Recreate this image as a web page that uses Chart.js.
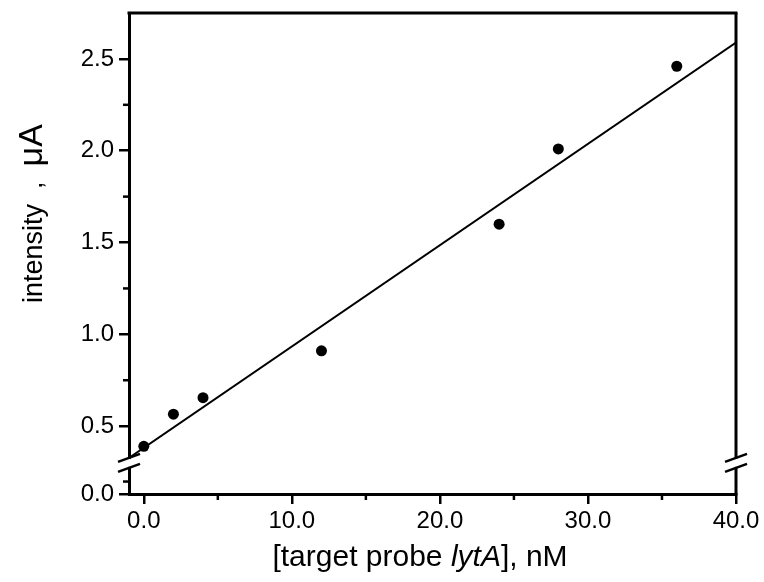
<!DOCTYPE html>
<html>
<head>
<meta charset="utf-8">
<script src="https://cdn.jsdelivr.net/npm/chart.js@4.4.0/dist/chart.umd.min.js"></script>
<style>
    html, body { margin: 0; padding: 0; background: #fff; }
    #wrap { width: 764px; height: 582px; }
</style>
</head>
<body>
<div id="wrap"><canvas id="chart"></canvas></div>
<script>
// measured points
const concentration = [0, 2, 4, 12, 24, 28, 36];
const intensity = [0.39, 0.565, 0.655, 0.91, 1.60, 2.01, 2.46];

// fitted line, end points
const fitX = [-1, 40];
const fitY = [0.327, 2.589];

const xTicks = [0, 10, 20, 30, 40];
const xMinorTicks = [5, 15, 25, 35];
const yTicks = [0.5, 1.0, 1.5, 2.0, 2.5];
const yMinorTicks = [0.75, 1.25, 1.75, 2.25];
const yLowTicks = [0];
const yLowMinorTicks = [0.1];

const FONT = '"Liberation Sans", Arial, sans-serif';

const tickFont = { family: FONT, size: 24 };

function fixedTicks(list) {
    return (scale) => {
        scale.ticks = list.map((v) => ({ value: v }));
    };
}

function fitScale(size) {
    return (s) => {
        if (s.isHorizontal()) s.height = size;
        else s.width = size;
        s.paddingTop = 0;
        s.paddingBottom = 0;
        s.paddingLeft = 0;
        s.paddingRight = 0;
    };
}

function line(ctx, x1, y1, x2, y2) {
    ctx.beginPath();
    ctx.moveTo(x1, y1);
    ctx.lineTo(x2, y2);
    ctx.stroke();
}

const decorations = {
    id: 'decorations',
    afterDraw(chart) {
        const { ctx, chartArea: a } = chart;
        const x = chart.scales.x;
        const y = chart.scales.y;
        const yLow = chart.scales.yLow;
        ctx.save();
        ctx.strokeStyle = '#000';
        ctx.lineCap = 'butt';

        // frame top + right
        ctx.lineWidth = 3;
        line(ctx, a.left - 1.5, a.top, a.right + 1.5, a.top);
        line(ctx, a.right, a.top, a.right, a.bottom + 1.5);

        // minor ticks
        ctx.lineWidth = 2.5;
        xMinorTicks.forEach((v) => {
            const px = x.getPixelForValue(v);
            line(ctx, px, a.bottom, px, a.bottom + 6);
        });
        yMinorTicks.forEach((v) => {
            const py = y.getPixelForValue(v);
            line(ctx, a.left - 6, py, a.left, py);
        });
        yLowMinorTicks.forEach((v) => {
            const py = yLow.getPixelForValue(v);
            line(ctx, a.left - 6, py, a.left, py);
        });

        // axis breaks
        const by = y.bottom;
        [a.left, a.right].forEach((bx) => {
            ctx.fillStyle = '#fff';
            ctx.fillRect(bx - 3, by - 4, 6, 8);
            ctx.lineWidth = 2.5;
            line(ctx, bx - 11, by - 1, bx + 11, by - 9);
            line(ctx, bx - 11, by + 9, bx + 11, by + 1);
        });

        // x title with italic gene name
        ctx.fillStyle = '#000';
        ctx.textBaseline = 'alphabetic';
        ctx.textAlign = 'left';
        const parts = [
            { t: '[target probe ', f: `30px ${FONT}` },
            { t: 'lytA', f: `italic 30px ${FONT}` },
            { t: '], nM', f: `30px ${FONT}` },
        ];
        let total = 0;
        parts.forEach((p) => {
            ctx.font = p.f;
            p.w = ctx.measureText(p.t).width;
            total += p.w;
        });
        let tx = 420 - total / 2;
        parts.forEach((p) => {
            ctx.font = p.f;
            ctx.fillText(p.t, tx, 566);
            tx += p.w;
        });

        // y title, rotated
        ctx.translate(42, 303);
        ctx.rotate(-Math.PI / 2);
        ctx.font = `27px ${FONT}`;
        const first = 'intensity  ,  ';
        ctx.fillText(first, 0, 0);
        const w1 = ctx.measureText(first).width;
        ctx.font = `34px ${FONT}`;
        ctx.fillText('\u03bcA', w1, 0);

        ctx.restore();
    },
};

const axisGrid = { drawOnChartArea: false, color: '#000', lineWidth: 2.5, tickLength: 10 };
const axisBorder = { color: '#000', width: 3 };

new Chart(document.getElementById('chart'), {
    type: 'scatter',
    data: {
        datasets: [
            {
                label: 'fit',
                type: 'line',
                data: fitX.map((v, i) => ({ x: v, y: fitY[i] })),
                borderColor: '#000',
                borderWidth: 2,
                pointRadius: 0,
                fill: false,
                yAxisID: 'y',
            },
            {
                label: 'intensity',
                data: concentration.map((v, i) => ({ x: v, y: intensity[i] })),
                backgroundColor: '#000',
                borderWidth: 0,
                pointRadius: 5.5,
                yAxisID: 'y',
            },
        ],
    },
    options: {
        responsive: true,
        maintainAspectRatio: false,
        animation: false,
        layout: { padding: { top: 13, right: 28, left: 0, bottom: 0 } },
        plugins: { legend: { display: false }, tooltip: { enabled: false } },
        scales: {
            x: {
                type: 'linear',
                min: -1,
                max: 40,
                afterBuildTicks: fixedTicks(xTicks),
                afterFit: fitScale(88),
                ticks: {
                    callback: (v) => Number(v).toFixed(1),
                    font: tickFont,
                    color: '#000',
                    padding: 3,
                    maxRotation: 0,
                    autoSkip: false,
                },
                grid: axisGrid,
                border: axisBorder,
            },
            yLow: {
                type: 'linear',
                position: 'left',
                stack: 'left',
                stackWeight: 31,
                min: 0,
                max: 0.25,
                afterBuildTicks: fixedTicks(yLowTicks),
                afterFit: fitScale(129),
                ticks: {
                    callback: (v) => Number(v).toFixed(1),
                    font: tickFont,
                    color: '#000',
                    padding: 5,
                    autoSkip: false,
                },
                grid: axisGrid,
                border: axisBorder,
            },
            y: {
                type: 'linear',
                position: 'left',
                stack: 'left',
                stackWeight: 448,
                min: 0.3,
                max: 2.75,
                afterBuildTicks: fixedTicks(yTicks),
                afterFit: fitScale(129),
                ticks: {
                    callback: (v) => Number(v).toFixed(1),
                    font: tickFont,
                    color: '#000',
                    padding: 5,
                    autoSkip: false,
                },
                grid: axisGrid,
                border: axisBorder,
            },
        },
    },
    plugins: [decorations],
});
</script>
</body>
</html>
